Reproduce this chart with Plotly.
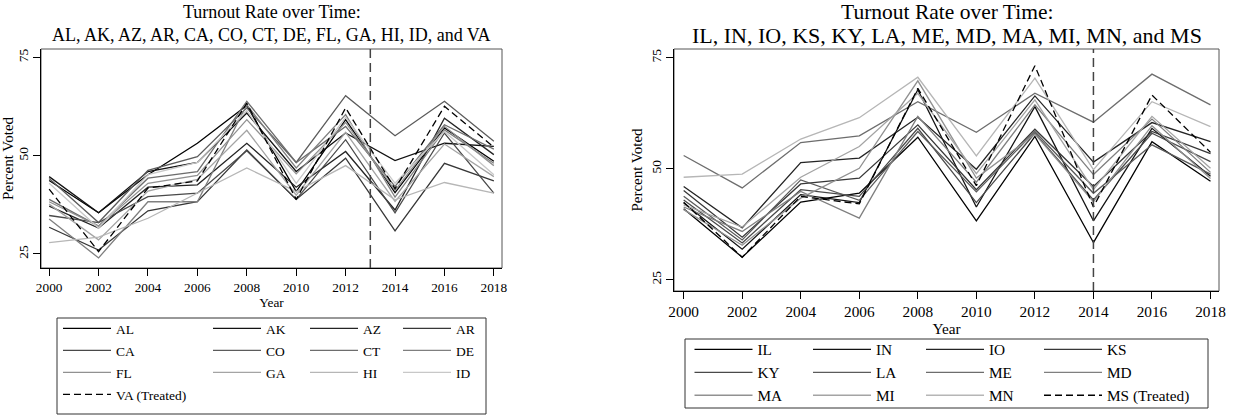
import plotly.graph_objects as go

W, H = 1234, 416
SERIF = "Liberation Serif"

years = [2000, 2002, 2004, 2006, 2008, 2010, 2012, 2014, 2016, 2018]
y_ticks = [25, 50, 75]

# ---------------- Panel 1 ----------------
AL = [43.7, 35.5, 45.2, 53.2, 62.8, 40.9, 59.2, 40.6, 57.1, 48.6]
AK = [44.7, 35.5, 46.0, 48.3, 60.9, 46.0, 55.8, 48.8, 53.2, 52.4]
AZ = [37.2, 31.6, 42.0, 42.6, 53.2, 42.0, 51.1, 36.2, 59.6, 50.3]
AR = [31.8, 26.0, 36.0, 38.3, 51.5, 38.9, 49.4, 30.9, 48.1, 43.6]
CA = [34.8, 33.0, 39.6, 40.5, 51.3, 38.9, 54.1, 35.5, 55.8, 40.5]
CO = [44.2, 33.0, 46.3, 49.8, 62.2, 48.3, 65.3, 55.1, 63.9, 53.7]
CT = [38.9, 32.1, 44.3, 46.0, 63.9, 48.3, 57.5, 42.2, 57.9, 51.7]
DE = [33.9, 24.0, 38.3, 38.3, 63.0, 46.9, 60.5, 39.5, 56.6, 48.1]
FL = [38.3, 32.1, 43.0, 45.0, 59.2, 45.4, 58.5, 41.2, 57.5, 47.5]
GA = [37.7, 28.6, 41.0, 44.0, 56.5, 40.0, 56.0, 38.4, 53.0, 44.7]
HI = [27.9, 29.3, 34.1, 40.5, 46.9, 40.9, 47.5, 38.8, 43.2, 40.5]
ID = [43.0, 31.6, 45.2, 48.3, 61.5, 43.0, 59.8, 43.0, 56.2, 45.2]
VA = [41.5, 25.6, 41.8, 43.6, 63.4, 38.9, 62.2, 41.6, 62.6, 52.2]

left_names = ["AL", "AK", "AZ", "AR", "CA", "CO", "CT", "DE", "FL", "GA", "HI", "ID"]
left_series = [AL, AK, AZ, AR, CA, CO, CT, DE, FL, GA, HI, ID]
left_treated_name = "VA (Treated)"
left_treated = VA
left_treat_year = 2013
left_title = ["Turnout Rate over Time:",
              "AL, AK, AZ, AR, CA, CO, CT, DE, FL, GA, HI, ID, and VA"]

# ---------------- Panel 2 ----------------
IL = [41.0, 30.1, 42.5, 44.5, 57.1, 38.3, 57.3, 33.4, 56.1, 47.2]
IN = [42.3, 31.9, 44.2, 42.4, 67.8, 41.4, 64.0, 38.3, 59.1, 48.3]
IO = [46.0, 36.7, 51.4, 52.4, 61.6, 49.9, 66.4, 51.5, 60.4, 56.1]
KS = [45.1, 34.6, 46.6, 47.9, 59.9, 45.3, 58.9, 46.0, 58.4, 53.4]
KY = [43.0, 33.3, 45.3, 43.8, 59.1, 42.4, 58.0, 43.0, 58.0, 51.6]
LA = [43.8, 34.0, 47.5, 42.9, 58.4, 44.8, 58.4, 44.5, 55.4, 48.8]
ME = [53.0, 45.7, 55.9, 57.4, 65.1, 58.2, 67.0, 60.5, 71.3, 64.4]
MD = [41.4, 35.9, 44.9, 38.9, 61.8, 47.0, 64.4, 48.7, 61.2, 49.2]
MA = [40.8, 32.8, 43.4, 50.1, 69.8, 47.9, 57.8, 42.6, 59.7, 47.8]
MI = [41.9, 36.9, 48.1, 55.0, 67.0, 48.9, 65.5, 45.3, 61.8, 50.1]
MN = [48.1, 48.8, 56.7, 61.5, 70.6, 52.9, 70.4, 49.8, 65.1, 59.5]
MS = [42.5, 30.1, 43.8, 42.1, 68.1, 46.2, 73.2, 41.4, 66.6, 53.7]

right_names = ["IL", "IN", "IO", "KS", "KY", "LA", "ME", "MD", "MA", "MI", "MN"]
right_series = [IL, IN, IO, KS, KY, LA, ME, MD, MA, MI, MN]
right_treated_name = "MS (Treated)"
right_treated = MS
right_treat_year = 2014
right_title = ["Turnout Rate over Time:",
               "IL, IN, IO, KS, KY, LA, ME, MD, MA, MI, MN, and MS"]


def gray(i, n):
    v = int(round(i * 200 / (n - 1)))
    return f"rgb({v},{v},{v})"


fig = go.Figure()

panels = [
    dict(names=left_names, series=left_series, tname=left_treated_name, tvals=left_treated,
         tyear=left_treat_year, title=left_title, xa="x", ya="y",
         box=(41, 502, 49, 268), xr=[1999.67, 2018.33], yr=[21.43, 77.2],
         legx=[58, 208, 305, 398], legtop=313, legbox=(57, 486, 318, 414),
         itemw=48, lfont=13.5, lgap=1.5, tfont=18, tfont1=18, tickfont=13.3, legstart=1,
         xstand=3),
    dict(names=right_names, series=right_series, tname=right_treated_name, tvals=right_treated,
         tyear=right_treat_year, title=right_title, xa="x2", ya="y2",
         box=(674, 1219, 49, 291), xr=[1999.67, 2018.29], yr=[22.5, 76.96],
         legx=[689.5, 808, 921, 1039], legtop=333, legbox=(685, 1208, 339, 408),
         itemw=58, lfont=15.3, lgap=-0.6, tfont=22, tfont1=21.5, tickfont=15.3, legstart=5,
         xstand=1),
]

layout_extra = {}
shapes = []
annotations = []

for p in panels:
    ncol = 4
    for i, (nm, vals) in enumerate(zip(p["names"], p["series"])):
        col = i % ncol
        lg = p["legstart"] + col
        lname = "legend" if lg == 1 else f"legend{lg}"
        fig.add_trace(go.Scatter(
            x=years, y=vals, mode="lines", name=nm, xaxis=p["xa"], yaxis=p["ya"],
            line=dict(color=gray(i, 12), width=1.3), legend=lname, legendgroup=nm))
    # treated
    col = len(p["names"]) % ncol
    lg = p["legstart"] + col
    lname = "legend" if lg == 1 else f"legend{lg}"
    fig.add_trace(go.Scatter(
        x=years, y=p["tvals"], mode="lines", name=p["tname"], xaxis=p["xa"], yaxis=p["ya"],
        line=dict(color="black", width=1.3, dash="7px,4px"), legend=lname,
        legendgroup=p["tname"]))

    for k, lx in enumerate(p["legx"]):
        lg = p["legstart"] + k
        lname = "legend" if lg == 1 else f"legend{lg}"
        layout_extra[lname] = dict(
            x=lx / W, xanchor="left", y=1 - p["legtop"] / H, yanchor="top",
            orientation="v", itemwidth=p["itemw"], bgcolor="rgba(0,0,0,0)",
            borderwidth=0, tracegroupgap=max(p["lgap"], 0),
            font=dict(family=SERIF, size=p["lfont"], color="black"))

    x0, x1, y0, y1 = p["box"]
    axn = "xaxis" if p["xa"] == "x" else "xaxis2"
    ayn = "yaxis" if p["ya"] == "y" else "yaxis2"
    layout_extra[axn] = dict(
        domain=[x0 / W, x1 / W], range=p["xr"], anchor=p["ya"], tickvals=years,
        ticks="outside", ticklen=7, tickwidth=1, tickcolor="black",
        showline=True, linecolor="black", linewidth=1.2, showgrid=False, zeroline=False,
        tickfont=dict(family=SERIF, size=p["tickfont"], color="black"),
        title=dict(text="Year", font=dict(family=SERIF, size=p["tickfont"], color="black"),
                   standoff=p["xstand"]),
        automargin=False)
    layout_extra[ayn] = dict(
        domain=[1 - y1 / H, 1 - y0 / H], range=p["yr"], anchor=p["xa"], tickvals=y_ticks,
        ticks="outside", ticklen=7, tickwidth=1, tickcolor="black", tickangle=-90,
        showline=True, linecolor="black", linewidth=1.2, showgrid=False, zeroline=False,
        tickfont=dict(family=SERIF, size=13.5, color="black"),
        title=dict(text="Percent Voted", font=dict(family=SERIF, size=15, color="black"),
                   standoff=2),
        automargin=False)

    dom_x = f"{p['xa']} domain"
    dom_y = f"{p['ya']} domain"
    shapes.append(dict(type="rect", xref=dom_x, yref=dom_y, x0=0, x1=1, y0=0, y1=1,
                       line=dict(color="#555555", width=1), layer="below"))
    shapes.append(dict(type="line", xref=p["xa"], yref=dom_y, x0=p["tyear"], x1=p["tyear"],
                       y0=0, y1=1, line=dict(color="#444444", width=1.5, dash="9px,5px")))
    bx0, bx1, by0, by1 = p["legbox"]
    shapes.append(dict(type="rect", xref="paper", yref="paper", x0=bx0 / W, x1=bx1 / W,
                       y0=1 - by1 / H, y1=1 - by0 / H, line=dict(color="#333333", width=1)))

    cx = (x0 + x1) / 2 / W
    for line_txt, ypix, fs in zip(p["title"], [12.5, 35.5], [p["tfont1"], p["tfont"]]):
        annotations.append(dict(text=line_txt, xref="paper", yref="paper", x=cx, y=1 - ypix / H,
                                xanchor="center", yanchor="middle", showarrow=False,
                                font=dict(family=SERIF, size=fs, color="black")))

fig.update_layout(
    width=W, height=H, margin=dict(l=0, r=0, t=0, b=0),
    paper_bgcolor="white", plot_bgcolor="white",
    showlegend=True, shapes=shapes, annotations=annotations,
    **layout_extra)

fig.write_html("out.html")
